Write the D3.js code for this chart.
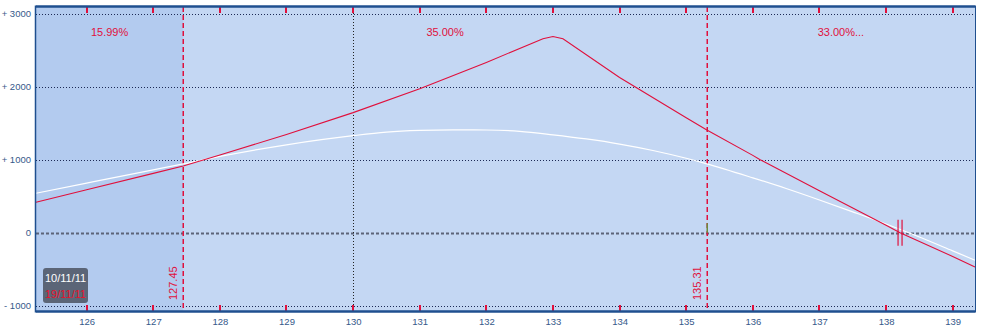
<!DOCTYPE html>
<head>
  <meta charset="utf-8">
  <script src="https://d3js.org/d3.v7.min.js"></script>
  <style>
    body { margin:0; background:#fff; }
    text { font-family: "Liberation Sans", Arial, sans-serif; }
    .axis path, .axis line { display:none; }
    .axis text { fill:#36598a; font-size:9.5px; }
  </style>
</head>
<body>
  <div id="chart"></div>
  <script>
    // price grid and P/L values
    var expiryPrice = [125.24, 126, 127, 127.45, 128, 129, 130, 131, 132, 132.85, 133, 133.15, 134, 134.23, 135, 135.31, 136, 136.11, 137, 138, 138.21, 139, 139.335];
    var expiryPL    = [417, 588, 813, 915, 1065, 1345, 1646, 1975, 2335, 2660, 2690, 2660, 2129, 2000, 1577, 1409, 1060, 1000, 576, 100, 0, -327, -470];

    var todayPrice = [125.24, 126, 127, 127.45, 128, 129, 130, 130.5, 131, 131.5, 132, 132.5, 133, 133.5, 134, 134.5, 135, 135.31, 136, 136.5, 137, 137.5, 138, 138.5, 139, 139.335];
    var todayPL    = [540, 680, 862, 942, 1045, 1205, 1330, 1378, 1402, 1410, 1408, 1390, 1342, 1285, 1215, 1127, 1020, 944, 752, 605, 448, 285, 118, -60, -250, -378];

    var xTickValues = [126, 127, 128, 129, 130, 131, 132, 133, 134, 135, 136, 137, 138, 139];
    var yTickValues = [3000, 2000, 1000, 0, -1000];
    var yTickLabels = ["+ 3000", "+ 2000", "+ 1000", "0", "- 1000"];

    var breakevens = [127.45, 135.31];
    var zoneLabels = ["15.99%", "35.00%", "33.00%..."];
    var currentPrice = 130;
    var zeroCross = 138.21;
    var dates = ["10/11/11", "19/11/11"];

    var W = 983, H = 334;
    var pLeft = 36, pRight = 975, pTop = 7, pBottom = 311;
    var red = "#e0103c";

    var svg = d3.select("#chart").append("svg")
      .attr("width", W)
      .attr("height", H)

    var x = d3.scaleLinear().domain([125.24, 139.335]).range([pLeft, pRight])
    var y = d3.scaleLinear().domain([-1075, 3095]).range([pBottom, pTop])

    // background zones
    svg.append("rect")
      .attr("x", pLeft).attr("y", pTop)
      .attr("width", pRight - pLeft).attr("height", pBottom - pTop)
      .attr("fill", "#c4d7f3")
    svg.append("rect")
      .attr("x", pLeft).attr("y", pTop)
      .attr("width", x(breakevens[0]) - pLeft).attr("height", pBottom - pTop)
      .attr("fill", "#b3cbef")

    // horizontal grid
    svg.selectAll(".grid").data(yTickValues).enter()
      .append("line")
      .attr("x1", pLeft).attr("x2", pRight)
      .attr("y1", function(d) { return Math.round(y(d)) + 0.5; })
      .attr("y2", function(d) { return Math.round(y(d)) + 0.5; })
      .style("stroke", function(d) { return d == 0 ? "#5d6478" : "#1d2a55"; })
      .style("stroke-width", function(d) { return d == 0 ? 2 : 1; })
      .style("stroke-dasharray", function(d) { return d == 0 ? "3,2" : "1,2"; })

    // current price
    svg.append("line")
      .attr("x1", Math.round(x(currentPrice)) + 0.5).attr("x2", Math.round(x(currentPrice)) + 0.5)
      .attr("y1", pTop).attr("y2", pBottom)
      .style("stroke", "#222").style("stroke-dasharray", "1,2")

    // breakeven lines
    svg.selectAll(".be").data(breakevens).enter()
      .append("line")
      .attr("x1", function(d) { return Math.round(x(d)) + 0.25; })
      .attr("x2", function(d) { return Math.round(x(d)) + 0.25; })
      .attr("y1", pTop).attr("y2", pBottom)
      .style("stroke", red).style("stroke-width", 1.5).style("stroke-dasharray", "5,3")

    svg.selectAll(".belabel").data(breakevens).enter()
      .append("text")
      .attr("transform", function(d) { return "translate(" + (x(d) - 6) + ",300) rotate(-90)"; })
      .style("fill", red).style("font-size", "11px")
      .text(function(d) { return d.toFixed(2); })

    svg.append("line")
      .attr("x1", Math.round(x(breakevens[1])) + 0.25).attr("x2", Math.round(x(breakevens[1])) + 0.25)
      .attr("y1", y(130)).attr("y2", y(0))
      .style("stroke", "#6b8a3a").style("stroke-width", 1.5)

    // zone labels
    var zoneEdges = [x.domain()[0], breakevens[0], breakevens[1], x.domain()[1]];
    svg.selectAll(".zone").data(zoneLabels).enter()
      .append("text")
      .attr("x", function(d, i) { return (x(zoneEdges[i]) + x(zoneEdges[i + 1])) / 2; })
      .attr("y", 36)
      .attr("text-anchor", "middle")
      .style("fill", red).style("font-size", "11px")
      .text(function(d) { return d; })

    // curves
    var line = d3.line()
      .x(function(d) { return x(d[0]); })
      .y(function(d) { return y(d[1]); })

    svg.append("path")
      .datum(d3.zip(todayPrice, todayPL))
      .attr("d", line.curve(d3.curveMonotoneX))
      .style("fill", "none").style("stroke", "#ffffff").style("stroke-width", 1.2)

    svg.append("path")
      .datum(d3.zip(expiryPrice, expiryPL))
      .attr("d", line.curve(d3.curveLinear))
      .style("fill", "none").style("stroke", red).style("stroke-width", 1.1)

    // zero crossing marker
    svg.selectAll(".zc").data([-2, 2]).enter()
      .append("line")
      .attr("x1", function(d) { return x(zeroCross) + d; })
      .attr("x2", function(d) { return x(zeroCross) + d; })
      .attr("y1", y(0) - 13).attr("y2", y(0) + 13)
      .style("stroke", red).style("stroke-width", 1.2)

    // red ticks top and bottom
    svg.selectAll(".tt").data(xTickValues).enter()
      .append("line")
      .attr("x1", function(d) { return Math.round(x(d)); })
      .attr("x2", function(d) { return Math.round(x(d)); })
      .attr("y1", pTop).attr("y2", pTop + 6)
      .style("stroke", red).style("stroke-width", 2)
    svg.selectAll(".bt").data(xTickValues).enter()
      .append("line")
      .attr("x1", function(d) { return Math.round(x(d)); })
      .attr("x2", function(d) { return Math.round(x(d)); })
      .attr("y1", pBottom - 6).attr("y2", pBottom)
      .style("stroke", red).style("stroke-width", 2)

    // frame
    svg.append("line").attr("x1", pLeft).attr("x2", pRight).attr("y1", pTop - 0.5).attr("y2", pTop - 0.5)
      .style("stroke", "#1f4f8f").style("stroke-width", 2.5)
    svg.append("line").attr("x1", pLeft).attr("x2", pRight).attr("y1", pBottom + 0.5).attr("y2", pBottom + 0.5)
      .style("stroke", "#1f4f8f").style("stroke-width", 2.5)
    svg.append("line").attr("x1", pLeft - 0.5).attr("x2", pLeft - 0.5).attr("y1", pTop - 1.5).attr("y2", pBottom + 1.5)
      .style("stroke", "#1f4f8f").style("stroke-width", 1.5)
    svg.append("line").attr("x1", pRight + 0.5).attr("x2", pRight + 0.5).attr("y1", pTop - 1.5).attr("y2", pBottom + 1.5)
      .style("stroke", "#1f4f8f").style("stroke-width", 1)

    // axes
    svg.append("g").attr("class", "axis")
      .attr("transform", "translate(0," + (pBottom + 4) + ")")
      .call(d3.axisBottom(x).tickValues(xTickValues).tickSize(0).tickFormat(d3.format("d")))

    svg.append("g").attr("class", "axis")
      .attr("transform", "translate(" + (pLeft - 2) + ",0)")
      .call(d3.axisLeft(y).tickValues(yTickValues).tickSize(0)
        .tickFormat(function(d, i) { return yTickLabels[i]; }))

    // date legend
    svg.append("rect")
      .attr("x", 43).attr("y", 268).attr("width", 45).attr("height", 35).attr("rx", 3)
      .attr("fill", "#5b6577")
    svg.selectAll(".date").data(dates).enter()
      .append("text")
      .attr("x", 45).attr("y", function(d, i) { return 282 + i * 16; })
      .style("fill", function(d, i) { return i == 0 ? "#ffffff" : "#e8102a"; })
      .style("font-size", "11px")
      .text(function(d) { return d; })
  </script>
</body>
